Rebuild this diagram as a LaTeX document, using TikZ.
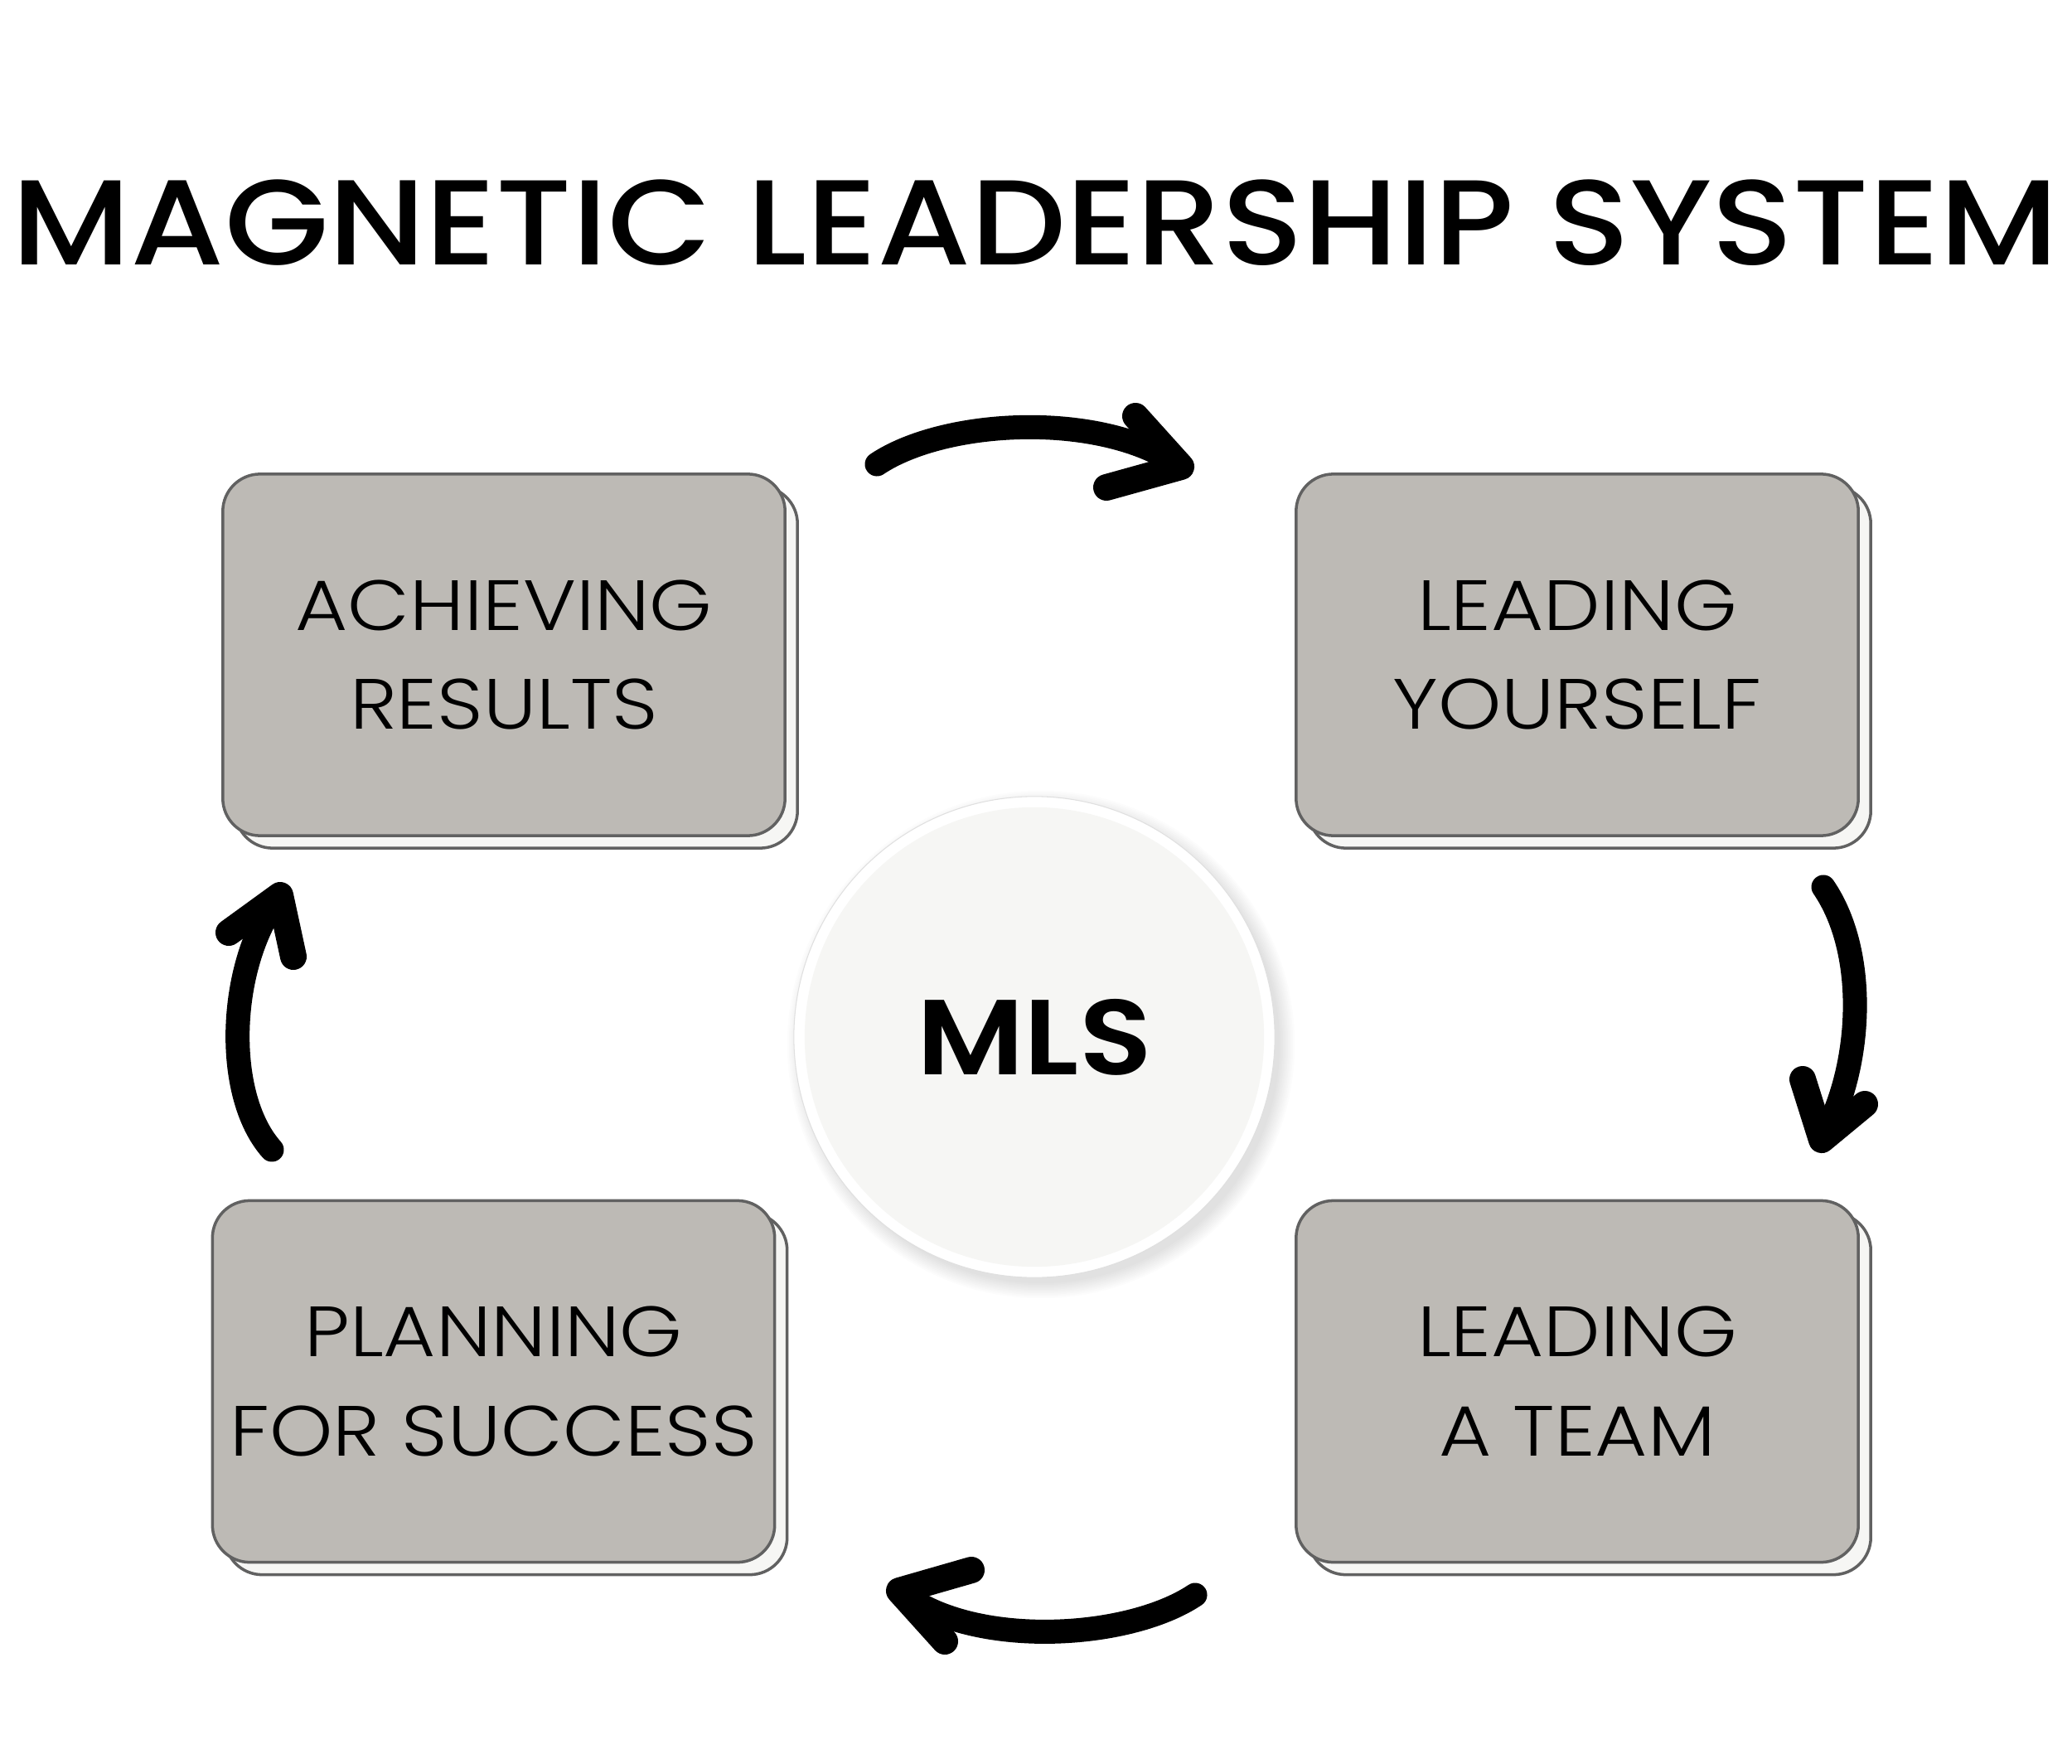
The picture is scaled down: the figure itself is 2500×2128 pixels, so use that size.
\documentclass[tikz,border=0pt]{standalone}
\usepackage{fontspec}
\usepackage{graphicx}
\setmainfont{Poppins}
\newfontfamily\titlefont{Poppins Medium}
\newfontfamily\semifont{Poppins SemiBold}
\newfontfamily\lightfont{Poppins Light}
\usetikzlibrary{shadows}
\definecolor{boxfill}{HTML}{BDBAB5}
\definecolor{edge}{HTML}{616161}
\definecolor{shadowfill}{HTML}{F6F6F4}
\definecolor{circfill}{HTML}{F6F6F4}
\newcommand\wide[1]{\scalebox{1.13}[1]{#1}}
\tikzset{
  mbox/.style={rounded corners=0.45cm, draw=edge, line width=1pt, fill=boxfill,
    minimum width=6.78cm, minimum height=4.36cm, inner sep=0pt, align=center,
    font=\lightfont\fontsize{24.4}{34.1}\selectfont,
    general shadow={shadow xshift=0.15cm, shadow yshift=-0.15cm, fill=shadowfill, draw=edge, line width=1pt}},
  brush/.style={line width=0.29cm, line cap=round, line join=round, black},
  barb/.style={line width=0.32cm, line cap=round, line join=round, black},
}
\begin{document}
\begin{tikzpicture}[x=0.01cm, y=-0.01cm]
\useasboundingbox[fill=white] (0,0) rectangle (2500,2128);
% title
\node[anchor=base, inner sep=0pt, font=\titlefont\fontsize{41.5}{50}\selectfont] (title) at (1249,320) {\scalebox{1.113}[1]{MAGNETIC LEADERSHIP SYSTEM}};
% boxes
\node[mbox] (achieve) at (608,790) {\wide{ACHIEVING}\\\wide{RESULTS}};
\node[mbox] (self) at (1903,790) {\wide{LEADING}\\\wide{YOURSELF}};
\node[mbox] (plan) at (595.5,1666.5) {\wide{PLANNING}\\\wide{FOR SUCCESS}};
\node[mbox] (team) at (1903,1666.5) {\wide{LEADING}\\\wide{A TEAM}};
% circle shadow
\foreach \i in {1,...,10}
  \fill[black, opacity=0.012] (1256,1260) circle[radius={(2.86+0.02*\i)*1cm}];
\fill[white, draw=black!12, line width=0.3pt] (1248,1251) circle[radius=2.90cm];
\node[circle, fill=circfill, minimum size=5.54cm, inner sep=0pt,
  font=\semifont\fontsize{36.6}{40}\selectfont] (mls) at (1248,1251) {\scalebox{1.12}[1]{MLS}};
% arrows
\coordinate (a1s) at (1058,560); \coordinate (a1t) at (1425,563);
\coordinate (a1u) at (1370,502); \coordinate (a1l) at (1335,588);
\draw[brush] (a1s) .. controls (1140,505) and (1330,495) .. (a1t);
\draw[barb] (a1u) -- (a1t) -- (a1l);
\coordinate (a2s) at (2200,1070); \coordinate (a2t) at (2198,1375);
\coordinate (a2l) at (2175,1302); \coordinate (a2r) at (2250,1332);
\draw[brush] (a2s) .. controls (2255,1150) and (2247,1290) .. (a2t);
\draw[barb] (a2l) -- (a2t) -- (a2r);
\coordinate (a3s) at (1442,1924); \coordinate (a3t) at (1085,1919);
\coordinate (a3u) at (1172,1894); \coordinate (a3l) at (1140,1980);
\draw[brush] (a3s) .. controls (1360,1979) and (1170,1989) .. (a3t);
\draw[barb] (a3u) -- (a3t) -- (a3l);
\coordinate (a4s) at (328,1387); \coordinate (a4t) at (338,1080);
\coordinate (a4l) at (276,1125); \coordinate (a4r) at (354,1154);
\draw[brush] (a4s) .. controls (268,1320) and (275,1160) .. (a4t);
\draw[barb] (a4l) -- (a4t) -- (a4r);
\end{tikzpicture}
\end{document}
